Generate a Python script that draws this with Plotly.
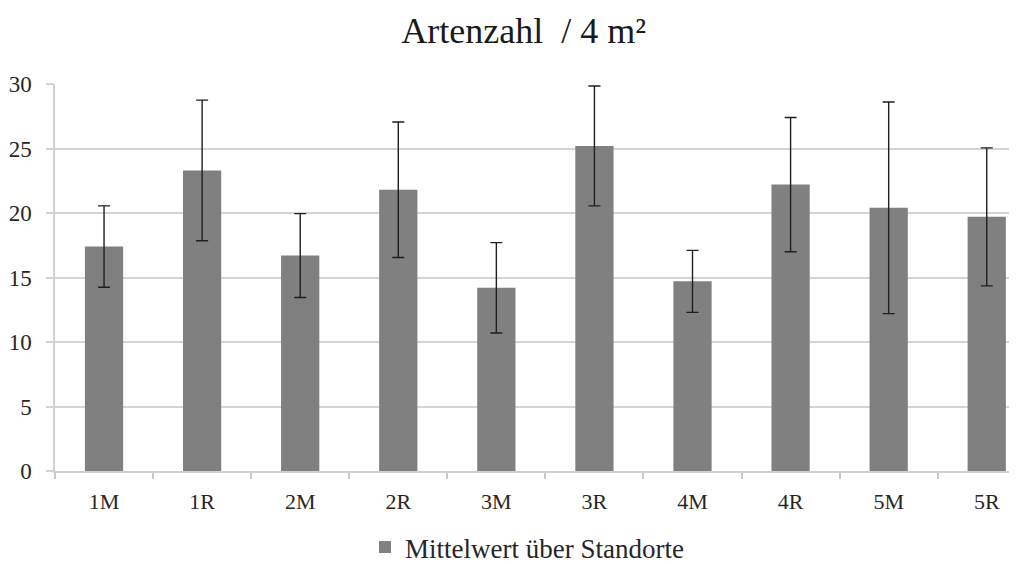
import plotly.graph_objects as go

categories = ["1M", "1R", "2M", "2R", "3M", "3R", "4M", "4R", "5M", "5R"]
means = [17.4, 23.3, 16.7, 21.8, 14.2, 25.2, 14.7, 22.2, 20.4, 19.7]
errors = [3.15, 5.45, 3.25, 5.25, 3.5, 4.65, 2.4, 5.2, 8.2, 5.35]
y_ticks = [0, 5, 10, 15, 20, 25, 30]

FONT = "Liberation Serif, Times New Roman, serif"

fig = go.Figure()
fig.add_trace(go.Bar(
    x=categories,
    y=means,
    name="Mittelwert über Standorte",
    marker=dict(color="#808080", line=dict(width=0)),
    error_y=dict(type="data", array=errors, visible=True,
                 color="#1f1f1f", thickness=1.4, width=6),
    showlegend=True,
))

fig.update_layout(
    width=1017, height=564,
    paper_bgcolor="white", plot_bgcolor="white",
    margin=dict(l=47, r=0, t=76, b=101),
    bargap=0.61,
    font=dict(family=FONT, size=22, color="#262626"),
    title=dict(text="Artenzahl  / 4 m²", x=0.507, xanchor="center",
               y=1 - 22 / 564, yanchor="middle",
               font=dict(family=FONT, size=36, color="#1a1a1a")),
    showlegend=True,
    legend=dict(orientation="h", x=0.4866, xanchor="center", y=-0.199, yanchor="middle",
                font=dict(family=FONT, size=27, color="#262626"),
                itemwidth=30),
    xaxis=dict(
        type="category",
        range=[-0.5, 9.39],
        showgrid=False,
        showline=True, linecolor="#d0d0d0", linewidth=1.5,
        ticks="outside", tickson="boundaries", ticklen=6, tickcolor="#c8c8c8", tickwidth=1.5,
        tickfont=dict(family=FONT, size=22, color="#262626"),
        ticklabelstandoff=10,
    ),
    yaxis=dict(
        range=[0, 30],
        tickvals=y_ticks,
        showgrid=True, gridcolor="#d4d4d4", gridwidth=1.5,
        zeroline=False,
        showline=True, linecolor="#d0d0d0", linewidth=1.5,
        ticks="outside", ticklen=7, tickcolor="#d4d4d4", tickwidth=1.5,
        tickfont=dict(family=FONT, size=23, color="#262626"),
        ticklabelstandoff=10,
    ),
)

fig.write_html("out.html")
